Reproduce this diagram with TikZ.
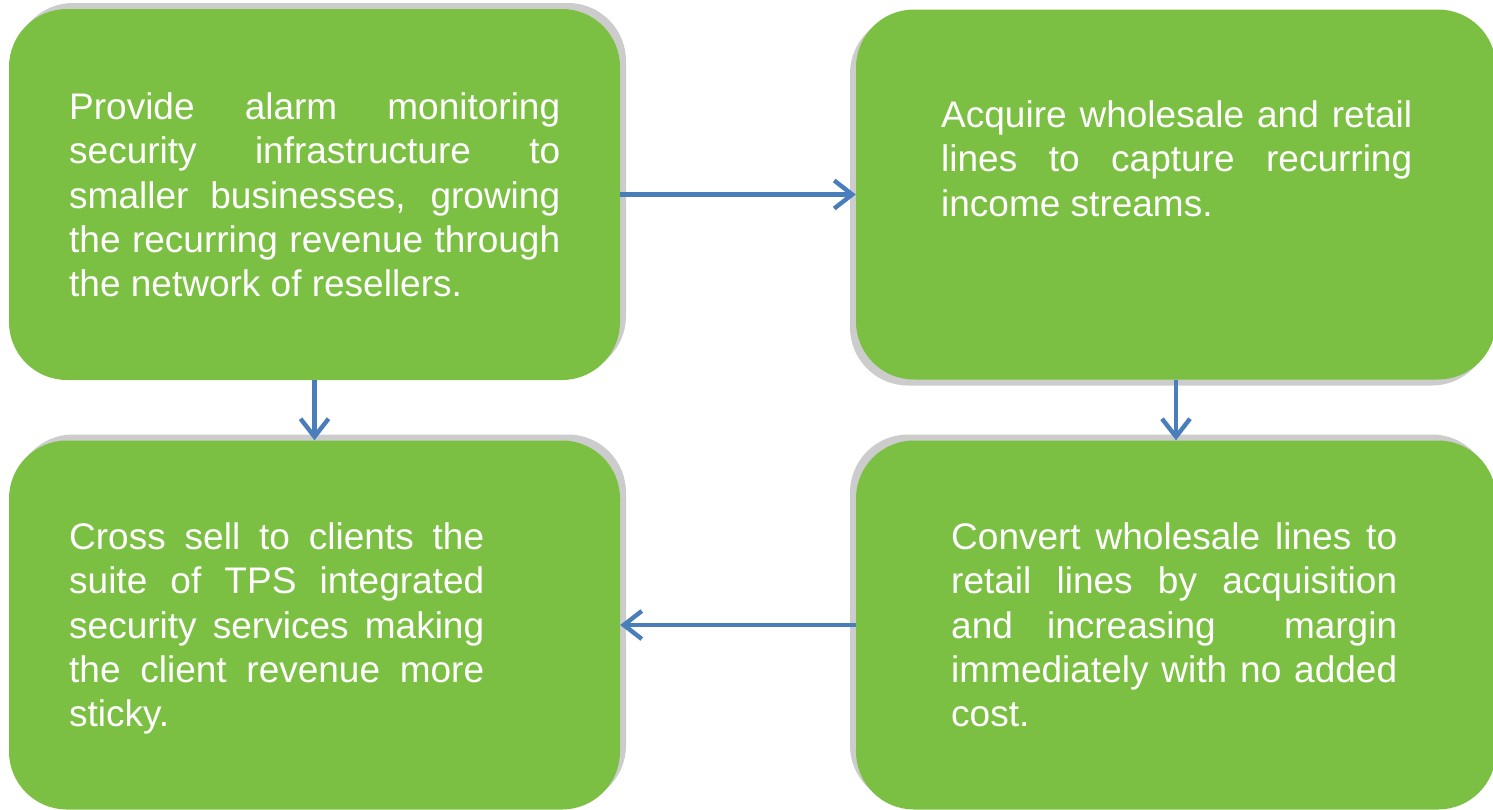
\documentclass[tikz,border=0pt]{standalone}
\usepackage{fontspec}
\setmainfont{Liberation Sans}
\usetikzlibrary{arrows.meta,shadows}

\definecolor{boxgreen}{RGB}{124,192,67}
\definecolor{rimgrey}{RGB}{204,204,204}
\definecolor{flowblue}{RGB}{74,126,187}

\tikzset{
  stage/.style={fill=boxgreen, rounded corners=58pt, inner sep=0pt, draw=none},
  rim/.style 2 args={general shadow={fill=rimgrey, shadow xshift=#1, shadow yshift=#2}},
  caption/.style={anchor=base west, inner sep=0pt, text=white,
    font=\fontsize{37}{44.3}\selectfont},
  flow/.style={draw=flowblue, line width=4.4pt,
    -{Straight Barb[length=18pt,width=28pt,line width=4.4pt]}},
}
\newcommand{\jline}[2]{\makebox[#1][s]{#2}\\}

\begin{document}
\begin{tikzpicture}[x=1pt,y=-1pt]
  \useasboundingbox (0,0) rectangle (1493,809);

  % four stages
  \node[stage, rim={6pt}{6pt}, minimum width=611pt, minimum height=371pt]
    (b1) at (314.5,194.5) {};
  \node[stage, rim={-6pt}{-6pt}, minimum width=640pt, minimum height=370pt]
    (b2) at (1176,194.5) {};
  \node[stage, rim={6pt}{6pt}, minimum width=611pt, minimum height=369pt]
    (b3) at (314.5,625) {};
  \node[stage, rim={-6pt}{6pt}, minimum width=640pt, minimum height=369pt]
    (b4) at (1176,625) {};

  % texts
  \node[caption] (t1) at (69,119.5) {\parbox[t]{491pt}{%
    \jline{491pt}{Provide alarm monitoring}%
    \jline{491pt}{security infrastructure to}%
    \jline{491pt}{smaller businesses, growing}%
    \jline{491pt}{the recurring revenue through}%
    the network of resellers.}};
  \node[caption] (t2) at (941,127.5) {\parbox[t]{471pt}{%
    \jline{471pt}{Acquire wholesale and retail}%
    \jline{471pt}{lines to capture recurring}%
    income streams.}};
  \node[caption] (t3) at (69,549.5) {\parbox[t]{415pt}{%
    \jline{415pt}{Cross sell to clients the}%
    \jline{415pt}{suite of TPS integrated}%
    \jline{415pt}{security services making}%
    \jline{415pt}{the client revenue more}%
    sticky.}};
  \node[caption] (t4) at (951,549.5) {\parbox[t]{446pt}{%
    \jline{446pt}{Convert wholesale lines to}%
    \jline{446pt}{retail lines by acquisition}%
    \jline{446pt}{and increasing\ \ margin}%
    \jline{446pt}{immediately with no added}%
    cost.}};

  % connectors
  \draw[flow] (b1.east) -- (b2.west);
  \draw[flow] (b1.south) -- (b3.north);
  \draw[flow] (b2.south) -- (b4.north);
  \draw[flow] (b4.west) -- (b3.east);
\end{tikzpicture}
\end{document}
